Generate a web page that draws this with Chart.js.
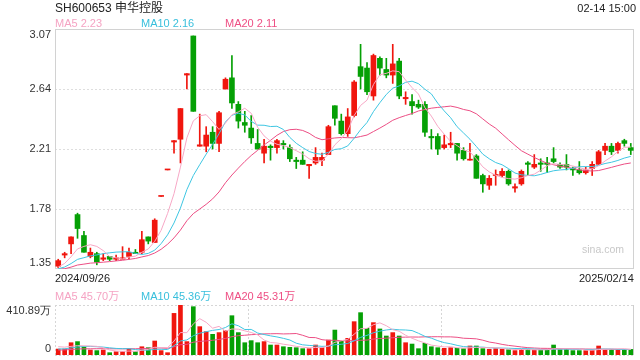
<!DOCTYPE html>
<html>
<head>
<meta charset="utf-8">
<script src="https://cdn.jsdelivr.net/npm/chart.js@4.4.1/dist/chart.umd.min.js"></script>
<style>
  body { margin: 0; width: 640px; height: 360px; background: #fff; position: relative; overflow: hidden;
         font-family: "Liberation Sans", Arial, "Noto Sans CJK SC", sans-serif; }
  canvas { position: absolute; left: 0; top: 0; }
  .t { position: absolute; white-space: nowrap; font-size: 11px; line-height: 12px; }
</style>
</head>
<body>
<canvas id="kline" width="640" height="360"></canvas>
<canvas id="vol" width="640" height="360"></canvas>

<div class="t" style="left:55px;top:1px;font-size:12px;line-height:14px;color:#222">SH600653 申华控股</div>
<div class="t" style="right:4px;top:2px;color:#222">02-14 15:00</div>
<div class="t" style="left:55px;top:17px;color:#f5a3c3">MA5 2.23</div>
<div class="t" style="left:141px;top:17px;color:#38bfdc">MA10 2.16</div>
<div class="t" style="left:225px;top:17px;color:#ee4f84">MA20 2.11</div>
<div class="t" id="dFirst" style="left:55px;top:272px;color:#222"></div>
<div class="t" id="dLast" style="right:6px;top:272px;color:#222"></div>
<div class="t" style="left:55px;top:290px;color:#f5a3c3">MA5 45.70万</div>
<div class="t" style="left:141px;top:290px;color:#38bfdc">MA10 45.36万</div>
<div class="t" style="left:225px;top:290px;color:#ee4f84">MA20 45.31万</div>
<div class="t" style="left:582px;top:243px;font-size:10.5px;color:#c8c8c8">sina.com</div>

<script>
const dates = [
  "2024/09/26","2024/09/27","2024/09/30",
  "2024/10/08","2024/10/09","2024/10/10","2024/10/11","2024/10/14","2024/10/15","2024/10/16","2024/10/17","2024/10/18",
  "2024/10/21","2024/10/22","2024/10/23","2024/10/24","2024/10/25","2024/10/28","2024/10/29","2024/10/30","2024/10/31",
  "2024/11/01","2024/11/04","2024/11/05","2024/11/06","2024/11/07","2024/11/08","2024/11/11","2024/11/12","2024/11/13",
  "2024/11/14","2024/11/15","2024/11/18","2024/11/19","2024/11/20","2024/11/21","2024/11/22","2024/11/25","2024/11/26",
  "2024/11/27","2024/11/28","2024/11/29",
  "2024/12/02","2024/12/03","2024/12/04","2024/12/05","2024/12/06","2024/12/09","2024/12/10","2024/12/11","2024/12/12",
  "2024/12/13","2024/12/16","2024/12/17","2024/12/18","2024/12/19","2024/12/20","2024/12/23","2024/12/24","2024/12/25",
  "2024/12/26","2024/12/27","2024/12/30","2024/12/31",
  "2025/01/02","2025/01/03","2025/01/06","2025/01/07","2025/01/08","2025/01/09","2025/01/10","2025/01/13","2025/01/14",
  "2025/01/15","2025/01/16","2025/01/17","2025/01/20","2025/01/21","2025/01/22","2025/01/23","2025/01/24","2025/01/27",
  "2025/02/05","2025/02/06","2025/02/07","2025/02/10","2025/02/11","2025/02/12","2025/02/13","2025/02/14"
];

const opens = [
  1.37,1.45,1.53,1.74,1.59,1.44,1.46,1.42,1.44,1.42, 1.42,1.44,1.47,1.47,1.58,1.54,1.87,2.06,2.26,2.28,
  2.74,3.02,2.23,2.23,2.33,2.25,2.64,2.72,2.53,2.40, 2.36,2.25,2.18,2.23,2.22,2.25,2.22,2.13,2.13,2.09,
  2.11,2.13,2.17,2.52,2.41,2.32,2.45,2.80,2.79,2.59, 2.86,2.78,2.74,2.84,2.57,2.55,2.53,2.53,2.30,2.30,
  2.22,2.24,2.25,2.20,2.13,2.16,2.02,1.95,2.02,2.02, 2.05,1.93,1.96,2.11,2.08,2.11,2.11,2.14,2.10,2.10,
  2.07,2.06,2.04,2.07,2.10,2.20,2.23,2.20,2.27,2.22
];
const highs = [
  1.42,1.47,1.58,1.75,1.62,1.50,1.47,1.46,1.44,1.45, 1.51,1.50,1.49,1.62,1.58,1.71,1.87,2.06,2.27,2.50,
  2.75,3.02,2.46,2.37,2.37,2.48,2.72,2.88,2.55,2.48, 2.45,2.35,2.28,2.24,2.28,2.27,2.24,2.15,2.19,2.10,
  2.22,2.18,2.38,2.52,2.46,2.50,2.70,2.96,2.83,2.89, 2.87,2.86,2.96,2.86,2.62,2.60,2.56,2.55,2.35,2.32,
  2.31,2.33,2.25,2.22,2.25,2.17,2.03,2.02,2.06,2.07, 2.06,1.96,2.06,2.12,2.17,2.14,2.15,2.22,2.11,2.17,
  2.08,2.12,2.08,2.12,2.20,2.25,2.25,2.26,2.28,2.25
];
const lows = [
  1.36,1.43,1.46,1.57,1.47,1.43,1.38,1.41,1.41,1.41, 1.42,1.42,1.46,1.46,1.53,1.54,1.87,2.06,2.18,2.11,
  2.64,2.48,2.23,2.19,2.21,2.19,2.64,2.50,2.36,2.33, 2.25,2.21,2.11,2.13,2.18,2.21,2.12,2.07,2.10,2.00,
  2.10,2.09,2.17,2.38,2.31,2.30,2.44,2.64,2.60,2.56, 2.74,2.72,2.68,2.57,2.53,2.46,2.50,2.30,2.21,2.17,
  2.21,2.22,2.13,2.13,2.13,2.00,1.90,1.92,1.95,2.01, 1.95,1.90,1.95,2.02,2.07,2.05,2.04,2.11,2.07,2.06,
  2.02,2.03,2.03,2.02,2.10,2.17,2.17,2.18,2.23,2.17
];
const closes = [
  1.41,1.46,1.58,1.64,1.47,1.47,1.40,1.43,1.42,1.43, 1.43,1.47,1.46,1.56,1.55,1.70,1.87,2.06,2.27,2.50,
  2.75,2.48,2.24,2.31,2.25,2.47,2.71,2.54,2.41,2.38, 2.29,2.21,2.23,2.22,2.27,2.24,2.14,2.12,2.10,2.10,
  2.15,2.15,2.37,2.43,2.32,2.44,2.69,2.73,2.62,2.88, 2.79,2.74,2.82,2.59,2.58,2.52,2.51,2.33,2.29,2.21,
  2.24,2.25,2.18,2.14,2.13,2.00,1.96,2.00,2.02,2.05, 1.96,1.94,2.05,2.10,2.10,2.10,2.10,2.12,2.08,2.08,
  2.06,2.04,2.06,2.10,2.19,2.23,2.19,2.25,2.25,2.20
];
// closes before the first visible day, estimated from where the MA lines start
const priorCloses = [1.34,1.35,1.34,1.34,1.33,1.34,1.35,1.34,1.33,1.34,1.34,1.33,1.34,1.35,1.34,1.33,1.34,1.36,1.38];

// volume in 万 shares
const volumes = [
  49,49,101,110,68,41,36,41,19,27, 27,49,27,68,60,115,36,19,342,410.89,
  110,397,233,192,170,184,200,323,184,101, 118,101,110,82,82,68,63,60,52,52,
  82,60,123,205,115,137,274,348,219,266, 214,156,184,156,101,90,52,96,68,60,
  55,60,55,52,74,74,52,47,52,47, 44,36,47,47,41,41,41,82,47,47,
  36,36,36,41,74,47,45,46,44,46
];
const priorVolumes = [30,32,35,33,31,30,34,36,33,32,30,28,31,29,32,65,70,80,76];

const priceTicks = [3.07, 2.64, 2.21, 1.78, 1.35];
const volTickLabels = ["410.89万", "0"];
const volMax = 410.89;
const volGridIdx = [30, 60];

const RED = "#f0160e";
const GREEN = "#05a005";
const MA5_COLOR = "#f7a8c6";
const MA10_COLOR = "#3fc6e2";
const MA20_COLOR = "#ec4e84";
const LABEL_FONT = '11px "Liberation Sans", Arial, sans-serif';

function movingAvg(prior, values, n) {
  const all = prior.concat(values);
  return values.map((_, i) => {
    const j = i + prior.length;
    let s = 0;
    for (let k = j - n + 1; k <= j; k++) s += all[k];
    return s / n;
  });
}

const colors = closes.map((c, i) => (c >= opens[i] ? RED : GREEN));

document.getElementById("dFirst").textContent = dates[0];
document.getElementById("dLast").textContent = dates[dates.length - 1];

function maLine(label, data, color) {
  return { type: "line", label, data, borderColor: color, borderWidth: 1, pointRadius: 0, tension: 0, order: 0 };
}

const kFrame = {
  id: "kFrame",
  beforeDatasetsDraw(chart) {
    const { ctx, chartArea: a, scales: { y } } = chart;
    ctx.save();
    ctx.strokeStyle = "#dedede";
    ctx.lineWidth = 1;
    ctx.setLineDash([2, 2]);
    priceTicks.slice(1, -1).forEach(v => {
      const py = Math.round(y.getPixelForValue(v)) + 0.5;
      ctx.beginPath(); ctx.moveTo(a.left, py); ctx.lineTo(a.right, py); ctx.stroke();
    });
    ctx.setLineDash([]);
    ctx.strokeStyle = "#d2d2d2";
    ctx.strokeRect(a.left + 0.5, a.top + 0.5, a.right - a.left - 1, a.bottom - a.top - 1);
    ctx.fillStyle = "#333";
    ctx.font = LABEL_FONT;
    ctx.textAlign = "right";
    ctx.textBaseline = "middle";
    priceTicks.forEach((v, i) => {
      let py = y.getPixelForValue(v);
      if (i === 0) py += 6;
      if (i === priceTicks.length - 1) py -= 6;
      ctx.fillText(v.toFixed(2), a.left - 4, py);
    });
    ctx.restore();
  }
};

new Chart(document.getElementById("kline"), {
  type: "bar",
  data: {
    labels: dates,
    datasets: [
      maLine("MA5", movingAvg(priorCloses, closes, 5), MA5_COLOR),
      maLine("MA10", movingAvg(priorCloses, closes, 10), MA10_COLOR),
      maLine("MA20", movingAvg(priorCloses, closes, 20), MA20_COLOR),
      {
        label: "body",
        data: opens.map((o, i) => [o, closes[i]]),
        backgroundColor: colors,
        barThickness: 5,
        minBarLength: 1,
        grouped: false,
        order: 1
      },
      {
        label: "wick",
        data: lows.map((l, i) => [l, highs[i]]),
        backgroundColor: colors,
        barThickness: 1,
        grouped: false,
        order: 2
      }
    ]
  },
  options: {
    responsive: false,
    animation: false,
    layout: { padding: { left: 55, right: 6, top: 29, bottom: 91 } },
    plugins: { legend: { display: false }, tooltip: { enabled: false } },
    scales: {
      x: { display: false },
      y: { display: false, min: priceTicks[priceTicks.length - 1], max: priceTicks[0] }
    }
  },
  plugins: [kFrame]
});

const vFrame = {
  id: "vFrame",
  beforeDatasetsDraw(chart) {
    const { ctx, chartArea: a, scales: { x, y } } = chart;
    ctx.save();
    ctx.strokeStyle = "#d6d6d6";
    ctx.lineWidth = 1;
    ctx.setLineDash([2, 2]);
    const line = (x1, y1, x2, y2) => { ctx.beginPath(); ctx.moveTo(x1, y1); ctx.lineTo(x2, y2); ctx.stroke(); };
    const top = Math.round(y.getPixelForValue(volMax)) + 0.5;
    const bot = Math.round(y.getPixelForValue(0)) + 0.5;
    line(a.left, top, a.right, top);
    line(a.left, bot, a.right, bot);
    line(a.left + 0.5, a.top, a.left + 0.5, a.bottom);
    volGridIdx.forEach(i => {
      const px = Math.round((x.getPixelForValue(i - 1) + x.getPixelForValue(i)) / 2) + 0.5;
      line(px, a.top, px, a.bottom);
    });
    ctx.setLineDash([]);
    ctx.strokeStyle = "#cfcfcf";
    line(a.right - 0.5, a.top, a.right - 0.5, a.bottom);
    ctx.fillStyle = "#333";
    ctx.font = LABEL_FONT;
    ctx.textAlign = "right";
    ctx.textBaseline = "middle";
    ctx.fillText(volTickLabels[0], a.left - 4, y.getPixelForValue(volMax) + 6);
    ctx.fillText(volTickLabels[1], a.left - 4, y.getPixelForValue(0) - 6);
    ctx.restore();
  }
};

new Chart(document.getElementById("vol"), {
  type: "bar",
  data: {
    labels: dates,
    datasets: [
      maLine("MA5", movingAvg(priorVolumes, volumes, 5), MA5_COLOR),
      maLine("MA10", movingAvg(priorVolumes, volumes, 10), MA10_COLOR),
      maLine("MA20", movingAvg(priorVolumes, volumes, 20), MA20_COLOR),
      {
        label: "volume",
        data: volumes,
        backgroundColor: colors,
        barThickness: 4,
        order: 1
      }
    ]
  },
  options: {
    responsive: false,
    animation: false,
    layout: { padding: { left: 55, right: 6, top: 305, bottom: 5 } },
    plugins: { legend: { display: false }, tooltip: { enabled: false } },
    scales: {
      x: { display: false },
      y: { display: false, min: 0, max: volMax }
    }
  },
  plugins: [vFrame]
});
</script>
</body>
</html>
